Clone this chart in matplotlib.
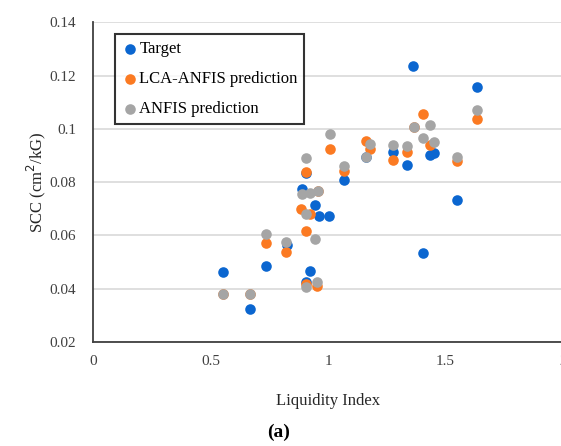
import matplotlib.pyplot as plt
from matplotlib.ticker import FuncFormatter

# values
target_x = [0.555, 0.666, 0.737, 0.825, 0.904, 0.887, 0.943, 0.960, 1.006, 0.921, 0.907,
            1.068, 1.161, 1.276, 1.336, 1.432, 1.451, 1.363, 1.548, 1.403, 1.634]
target_y = [0.0464, 0.0323, 0.0485, 0.0564, 0.0834, 0.0776, 0.0714, 0.0673, 0.0673, 0.0466, 0.0427,
            0.0809, 0.0894, 0.0914, 0.0865, 0.0901, 0.0911, 0.1236, 0.0735, 0.0535, 0.1158]

lca_x = [0.555, 0.666, 0.737, 0.823, 0.904, 0.886, 0.921, 0.906, 0.907, 0.952, 0.957,
         1.068, 1.160, 1.178, 1.276, 1.336, 1.404, 1.364, 1.433, 1.548, 1.634, 1.008]
lca_y = [0.0379, 0.0379, 0.0570, 0.0538, 0.0839, 0.0699, 0.0682, 0.0616, 0.0418, 0.0412, 0.0767,
         0.0842, 0.0953, 0.0926, 0.0885, 0.0912, 0.1057, 0.1007, 0.0938, 0.0880, 0.1036, 0.0926]

anfis_x = [0.555, 0.666, 0.737, 0.823, 0.904, 0.887, 0.921, 0.957, 0.907, 0.943, 0.907, 0.952,
           1.008, 1.068, 1.161, 1.178, 1.276, 1.336, 1.364, 1.433, 1.404, 1.452, 1.548, 1.634]
anfis_y = [0.0379, 0.0379, 0.0604, 0.0577, 0.0889, 0.0757, 0.0760, 0.0767, 0.0682, 0.0587, 0.0406, 0.0427,
           0.0979, 0.0861, 0.0896, 0.0945, 0.0938, 0.0935, 0.1007, 0.1016, 0.0964, 0.0951, 0.0895, 0.1070]

plt.rcParams['font.family'] = ['Liberation Serif', 'DejaVu Serif']

fig = plt.figure(figsize=(5.61, 4.46), dpi=100)
ax = fig.add_axes([0.1658, 0.233, 0.838, 0.717])

ax.scatter(target_x, target_y, s=58, color='#0B66D0', label='Target', zorder=3, linewidths=0)
ax.scatter(lca_x, lca_y, s=58, color='#FB7A22', label='LCA-ANFIS prediction', zorder=4, linewidths=0)
ax.scatter(anfis_x, anfis_y, s=58, color='#A5A5A5', label='ANFIS prediction', zorder=5, linewidths=0)

ax.set_xlim(0, 2)
ax.set_ylim(0.02, 0.14)
ax.set_xticks([0, 0.5, 1, 1.5, 2])
ax.set_yticks([0.02, 0.04, 0.06, 0.08, 0.1, 0.12, 0.14])
ax.xaxis.set_major_formatter(FuncFormatter(lambda v, p: '%g' % v))
ax.yaxis.set_major_formatter(FuncFormatter(lambda v, p: '%g' % round(v, 2)))
ax.tick_params(length=0, labelsize=11, colors='#404040')
ax.tick_params(axis='y', pad=12)
ax.tick_params(axis='x', pad=9)

ax.grid(axis='y', color='#D9D9D9', linewidth=1.2)
ax.set_axisbelow(True)
for s in ['top', 'right']:
    ax.spines[s].set_visible(False)
for s in ['left', 'bottom']:
    ax.spines[s].set_color('#404040')
    ax.spines[s].set_linewidth(1.3)

ax.set_xlabel('Liquidity Index', fontsize=12, labelpad=18, color='#262626')
ax.set_ylabel('SCC (cm$^2$/kG)', fontsize=12, labelpad=1, color='#262626')

leg = ax.legend(loc='upper left', bbox_to_anchor=(0.047, 0.962), fontsize=12,
                frameon=True, fancybox=False, handletextpad=0.05, borderpad=0.4,
                labelspacing=0.85, handlelength=1.0, borderaxespad=0)
leg.get_frame().set_edgecolor('black')
leg.get_frame().set_linewidth(1.5)

fig.text(0.497, 0.03, '(a)', fontsize=14, fontweight='bold', ha='center', va='center')

fig.savefig('out.png', dpi=100)
